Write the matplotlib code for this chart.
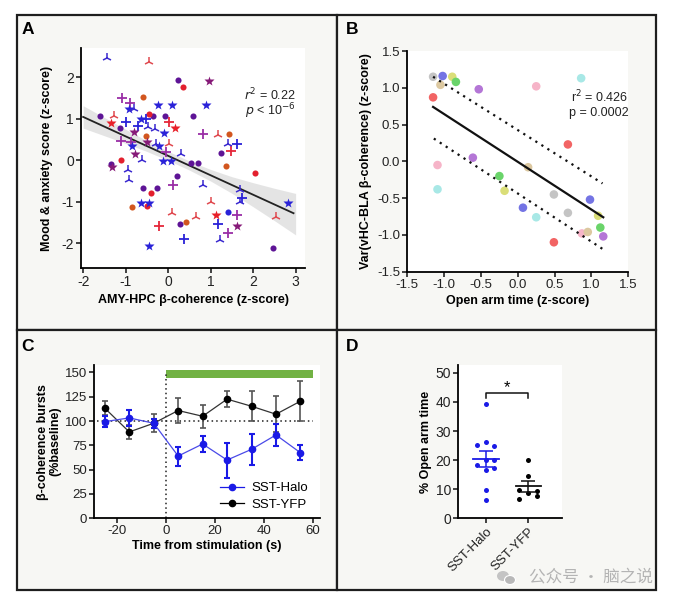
import matplotlib
matplotlib.use("Agg")
import matplotlib.pyplot as plt
import numpy as np
from matplotlib.patches import Rectangle, Ellipse
from matplotlib.lines import Line2D

plt.rcParams['font.family'] = ['Liberation Sans', 'DejaVu Sans']
plt.rcParams['axes.unicode_minus'] = False
plt.rcParams['axes.linewidth'] = 1.3
plt.rcParams['xtick.major.width'] = 1.2
plt.rcParams['ytick.major.width'] = 1.2
plt.rcParams['xtick.major.size'] = 3.5
plt.rcParams['ytick.major.size'] = 3.5

# ---------------- Panel A data ----------------
a_x = [-1.43, -0.46, 0.23, 0.34, -0.58, -1.09, -0.89, -0.93, -0.81, -1.00,
       -0.23, 0.09, -1.61, -1.28, -1.34, -0.45, -0.35, -0.07, 0.59, -0.65,
       -0.52, -0.70, 0.02, 0.16, -1.14, -0.48, -0.31, -0.09, -0.81, -0.51,
       -1.12, -0.87, -0.84, -0.49, -0.28, 0.02, -0.21, -0.78, -1.11, -0.62,
       -0.05, 0.31, -0.12, 0.07, 0.53, 0.71, -1.34, -1.31, -0.95, -0.92,
       0.21, -0.59, -0.40, -0.26, 0.12, -0.64, -0.46, -0.49, -0.85, 0.09,
       0.65, 0.29, 0.42, -0.21, 0.38, -0.45, 0.97, 0.89, 0.83, 1.18,
       1.43, 1.40, 1.63, 1.49, 1.25, 1.36, 2.05, 0.82, 1.69, 1.74,
       1.68, 2.82, 1.02, 1.13, 1.40, 1.62, 2.54, 1.18, 1.62, 1.40,
       1.22, 2.46]
a_y = [2.45, 2.37, 1.92, 1.76, 1.53, 1.49, 1.38, 1.23, 1.23, 0.92,
       1.33, 1.33, 1.05, 1.07, 0.89, 1.12, 1.05, 1.05, 1.05, 0.99,
       0.99, 0.83, 0.91, 0.78, 0.78, 0.80, 0.75, 0.65, 0.67, 0.59,
       0.47, 0.43, 0.35, 0.43, 0.39, 0.39, 0.35, 0.15, 0.01, 0.01,
       0.19, 0.15, -0.02, -0.02, -0.06, -0.06, -0.09, -0.17, -0.24, -0.48,
       -0.39, -0.67, -0.79, -0.67, -0.61, -1.03, -1.03, -1.11, -1.12, -1.27,
       -1.37, -1.53, -1.49, -1.59, -1.91, -2.06, 1.90, 1.33, 0.62, 0.60,
       0.62, 0.38, 0.38, 0.23, 0.18, -0.15, -0.30, -0.59, -0.72, -0.92,
       -1.00, -1.04, -1.01, -1.32, -1.25, -1.32, -1.37, -1.54, -1.59, -1.75,
       -1.93, -2.12]
a_kind = ['tB', 'tR', 'cP', 'cR', 'cO', 'pP', 'pP', 'sB', 'tB', 'pB',
          'sB', 'sB', 'cP', 'tR', 'sR', 'cR', 'cP', 'cP', 'cP', 'sB',
          'pB', 'pB', 'pR', 'sR', 'cP', 'tB', 'tB', 'sB', 'sP', 'cO',
          'pP', 'pP', 'sB', 'sP', 'tB', 'tR', 'sB', 'sP', 'cR', 'tB',
          'pP', 'tB', 'sB', 'sB', 'cP', 'cP', 'cP', 'sP', 'tB', 'tB',
          'cP', 'cP', 'cR', 'cP', 'pP', 'sB', 'sB', 'cR', 'cO', 'tR',
          'tR', 'cP', 'cO', 'pR', 'pB', 'sB', 'sP', 'sB', 'pP', 'tR',
          'cO', 'tB', 'pB', 'pR', 'cP', 'cO', 'cR', 'tB', 'tB', 'pB',
          'tB', 'sB', 'tR', 'sR', 'cB', 'pP', 'tR', 'pB', 'sP', 'pP',
          'tB', 'cP']
a_fit_x = [-2.0, 2.95]
a_fit_y = [1.04, -1.28]
a_band_x = [-2.0, -1.5, -1.0, -0.5, 0.0, 0.5, 1.0, 1.5, 2.0, 2.5, 3.0]
a_band_hw = [0.27, 0.22, 0.17, 0.13, 0.11, 0.11, 0.14, 0.2, 0.29, 0.39, 0.5]

# ---------------- Panel B data ----------------
b_x = [-1.15, -1.02, -0.89, -0.84, -1.05, -0.53, 0.25, 0.86, -1.15, 0.68,
       -0.61, -1.09, 0.14, -0.25, -1.09, -0.18, 0.49, 0.98, 0.07, 0.25,
       0.68, 1.09, 1.12, 0.87, 0.95, 1.16, 0.49]
b_y = [1.15, 1.16, 1.15, 1.08, 1.04, 0.98, 1.02, 1.13, 0.87, 0.23,
       0.05, -0.05, -0.08, -0.20, -0.38, -0.40, -0.45, -0.52, -0.63, -0.76,
       -0.70, -0.74, -0.90, -0.98, -0.96, -1.02, -1.10]
b_col = ['gray', 'blue', 'yellow', 'green', 'tan', 'purple', 'pink', 'cyan', 'red', 'red',
         'purple', 'pink', 'tan', 'green', 'cyan', 'yellow', 'gray', 'blue', 'blue', 'cyan',
         'gray', 'yellow', 'green', 'pink', 'tan', 'purple', 'red']
b_fit_x = [-1.15, 1.16]
b_fit_y = [0.74, -0.76]
b_up_x = [-1.15, 1.15]
b_up_y = [1.15, -0.30]
b_lo_x = [-1.14, 1.15]
b_lo_y = [0.31, -1.19]

# ---------------- Panel C data ----------------
c_t = [-25, -15, -5, 5, 15, 25, 35, 45, 55]
c_halo = [99.4, 103.2, 97.7, 64.0, 76.4, 59.9, 70.9, 85.7, 67.4]
c_halo_err = [5.5, 8.2, 4.5, 9.8, 8.2, 18.0, 15.6, 11.0, 7.6]
c_yfp = [113.2, 88.8, 97.7, 110.8, 104.9, 122.5, 115.2, 107.0, 120.4]
c_yfp_err = [6.9, 7.5, 9.1, 12.7, 11.7, 8.2, 15.6, 18.4, 20.3]
c_stim = [0, 60]

# ---------------- Panel D data ----------------
d_groups = ['SST-Halo', 'SST-YFP']
d_halo = [39.2, 25.3, 26.4, 24.7, 18.4, 20.0, 20.0, 16.5, 17.4, 9.6, 6.4]
d_halo_off = [0, -0.22, 0, 0.2, -0.22, 0, 0.2, 0, 0.2, 0, 0]
d_yfp = [20.1, 14.5, 9.9, 8.7, 9.5, 6.8, 7.6]
d_yfp_off = [0, 0, -0.22, 0, 0.2, -0.22, 0.2]
d_mean = [20.4, 11.0]
d_sem = [2.7, 1.8]

# ---------------- figure ----------------
W, H = 675, 603
fig = plt.figure(figsize=(W / 100, H / 100), dpi=100)
fig.patch.set_facecolor('white')

def fx(px):
    return px / W

def fy(py):
    return 1 - py / H

panel_bg = '#f7f7f4'
frame_c = '#1e1e1e'
for (x0, y0, x1, y1) in [(17, 15, 337, 330), (337, 15, 656, 330), (17, 330, 337, 590), (337, 330, 656, 590)]:
    fig.patches.append(Rectangle((fx(x0), fy(y1)), fx(x1) - fx(x0), fy(y0) - fy(y1),
                                 transform=fig.transFigure, facecolor=panel_bg,
                                 edgecolor=frame_c, linewidth=1.6, zorder=-5))

for lab, px, py in [('A', 28, 30), ('B', 352, 30), ('C', 28, 346), ('D', 352, 346)]:
    fig.text(fx(px), fy(py), lab, fontsize=12.5, fontweight='bold', ha='center', va='center')

def style(ax, ls=9.5):
    for s in ['top', 'right']:
        ax.spines[s].set_visible(False)
    ax.set_facecolor('white')
    ax.tick_params(labelsize=ls, direction='out', pad=1.5, colors='#222222')

# ---------------- Panel A ----------------
axA = fig.add_axes([fx(81), fy(268), fx(305) - fx(81), fy(48) - fy(268)])
style(axA, 10)
axA.set_xlim(-2.05, 3.22)
axA.set_ylim(-2.6, 2.7)
axA.set_xticks([-2, -1, 0, 1, 2, 3])
axA.set_yticks([-2, -1, 0, 1, 2])
bx = np.array(a_band_x)
slope = (a_fit_y[1] - a_fit_y[0]) / (a_fit_x[1] - a_fit_x[0])
line_at = a_fit_y[0] + slope * (bx - a_fit_x[0])
axA.fill_between(bx, line_at - np.array(a_band_hw), line_at + np.array(a_band_hw),
                 color='#dcdcdc', alpha=0.75, lw=0, zorder=1)
axA.plot(a_fit_x, a_fit_y, color='#222222', lw=1.3, zorder=3)

col_map = {'B': '#2a22d8', 'P': '#5e1496', 'R': '#e3202e', 'O': '#d2561f'}
star_col = {'B': '#2a22d8', 'P': '#861a78', 'R': '#e8202a', 'O': '#d2561f'}
plus_col = {'B': '#2a22d8', 'P': '#9a2ea6', 'R': '#e5283a', 'O': '#d2561f'}
tri_col = {'B': '#3b2ad0', 'P': '#8a3aa8', 'R': '#e04a50', 'O': '#d2561f'}
ax_arr = np.array(a_x)
ay_arr = np.array(a_y)
kinds = np.array(a_kind)
for k in sorted(set(a_kind)):
    m = kinds == k
    mk, c = k[0], k[1]
    if mk == 'c':
        axA.plot(ax_arr[m], ay_arr[m], 'o', ms=4.4, color=col_map[c], mec='none', zorder=4)
    elif mk == 's':
        axA.plot(ax_arr[m], ay_arr[m], '*', ms=7, color=star_col[c], mec='none', zorder=4)
    elif mk == 'p':
        axA.plot(ax_arr[m], ay_arr[m], '+', ms=6.5, mew=1.3, color=plus_col[c], zorder=4)
    else:
        axA.plot(ax_arr[m], ay_arr[m], '2', ms=6.5, mew=1.1, color=tri_col[c], zorder=4)
axA.text(3.0, 1.57, r'$r^2$ = 0.22', ha='right', va='center', fontsize=9, color='#222222')
axA.text(3.0, 1.17, r'$p$ < 10$^{-6}$', ha='right', va='center', fontsize=9, color='#222222')
axA.set_xlabel('AMY-HPC β-coherence (z-score)', fontsize=9, fontweight='bold', labelpad=4)
axA.set_ylabel('Mood & anxiety score (z-score)', fontsize=9, fontweight='bold', labelpad=6)

# ---------------- Panel B ----------------
axB = fig.add_axes([fx(407.3), fy(271.7), fx(628.3) - fx(407.3), fy(51) - fy(271.7)])
style(axB)
axB.set_xlim(-1.5, 1.5)
axB.set_ylim(-1.5, 1.5)
ticks = [-1.5, -1.0, -0.5, 0.0, 0.5, 1.0, 1.5]
axB.set_xticks(ticks)
axB.set_yticks(ticks)
axB.set_xticklabels(['%.1f' % t for t in ticks])
axB.set_yticklabels(['%.1f' % t for t in ticks])
pal = {'gray': '#c4c4c4', 'blue': '#7474e4', 'yellow': '#dade78', 'green': '#6ad46a',
       'tan': '#dcc8a0', 'purple': '#b476d6', 'pink': '#f6b4c8', 'cyan': '#a8e8e6',
       'red': '#f26464'}
axB.scatter(b_x, b_y, s=38, c=[pal[c] for c in b_col], edgecolors='none', zorder=2)
axB.plot(b_fit_x, b_fit_y, color='#111111', lw=1.6, zorder=3)
axB.plot(b_up_x, b_up_y, color='#111111', lw=1.6, ls=(0, (1, 2.2)), zorder=3)
axB.plot(b_lo_x, b_lo_y, color='#111111', lw=1.6, ls=(0, (1, 2.2)), zorder=3)
axB.text(1.5, 0.87, r'r$^2$ = 0.426', ha='right', va='center', fontsize=9, color='#222222')
axB.text(1.5, 0.66, 'p = 0.0002', ha='right', va='center', fontsize=9, color='#222222')
axB.set_xlabel('Open arm time (z-score)', fontsize=9, fontweight='bold', labelpad=3)
axB.set_ylabel('Var(vHC-BLA β-coherence) (z-score)', fontsize=9, fontweight='bold', labelpad=4)

# ---------------- Panel C ----------------
axC = fig.add_axes([fx(94.3), fy(518.3), fx(320) - fx(94.3), fy(365) - fy(518.3)])
style(axC)
axC.set_xlim(-29.3, 63)
axC.set_ylim(0, 157.6)
axC.set_xticks([-20, 0, 20, 40, 60])
axC.set_yticks([0, 25, 50, 75, 100, 125, 150])
axC.fill_between(c_stim, 144, 152, color='#72b244', lw=0, zorder=1)
axC.plot([0, 0], [0, 150], color='#222222', lw=1.1, ls=(0, (1, 2)), zorder=1)
axC.plot([-28, 60], [100, 100], color='#222222', lw=1.1, ls=(0, (1, 2)), zorder=1)
axC.errorbar(c_t, c_yfp, yerr=c_yfp_err, fmt='none', ecolor='#555555', elinewidth=1.2,
             capsize=2.5, capthick=1.2, zorder=2)
axC.plot(c_t, c_yfp, color='#333333', lw=0.9, zorder=3)
axC.plot(c_t, c_yfp, 'o', color='black', ms=4.5, zorder=4)
axC.errorbar(c_t, c_halo, yerr=c_halo_err, fmt='none', ecolor='#1a1ae6', elinewidth=1.5,
             capsize=2.5, capthick=1.5, zorder=5)
axC.plot(c_t, c_halo, color='#4a4ae8', lw=0.9, zorder=6)
axC.plot(c_t, c_halo, 'o', color='#1a1ae6', ms=4.5, zorder=7)
handles = [Line2D([], [], color='#1a1ae6', marker='o', ms=4.5, lw=0.9),
           Line2D([], [], color='black', marker='o', ms=4.5, lw=0.9)]
axC.legend(handles, ['SST-Halo', 'SST-YFP'], loc='lower right', bbox_to_anchor=(1.0, -0.03),
           frameon=False, fontsize=9.5, handlelength=1.8, handletextpad=0.6, labelspacing=0.35)
axC.set_xlabel('Time from stimulation (s)', fontsize=9, fontweight='bold', labelpad=2)
axC.set_ylabel('β-coherence bursts\n(%baseline)', fontsize=9, fontweight='bold',
               labelpad=3, linespacing=0.95)

# ---------------- Panel D ----------------
axD = fig.add_axes([fx(458.3), fy(518.3), fx(562.3) - fx(458.3), fy(365) - fy(518.3)])
style(axD, 10)
axD.set_xlim(-0.65, 1.8)
axD.set_ylim(0, 52.7)
axD.set_yticks([0, 10, 20, 30, 40, 50])
axD.set_xticks([0, 1])
axD.set_xticklabels(d_groups, rotation=45, ha='right', rotation_mode='anchor', fontsize=9.5)
axD.plot(np.array(d_halo_off), d_halo, 'o', color='#1a1ae6', ms=3.6, mec='none', zorder=3)
axD.plot(1 + np.array(d_yfp_off), d_yfp, 'o', color='black', ms=3.6, mec='none', zorder=3)
for i, mcol in enumerate(['#1a1ae6', '#111111']):
    axD.plot([i - 0.3, i + 0.3], [d_mean[i], d_mean[i]], color=mcol, lw=1.3, zorder=4)
    axD.errorbar([i], [d_mean[i]], yerr=[d_sem[i]], fmt='none', ecolor=mcol,
                 elinewidth=1.1, capsize=5, capthick=1.1, zorder=4)
axD.plot([0, 0, 1, 1], [41.2, 43, 43, 41.2], color='#111111', lw=1.1)
axD.text(0.5, 42.5, '*', ha='center', va='bottom', fontsize=12)
axD.set_ylabel('% Open arm time', fontsize=9, fontweight='bold', labelpad=3)

# watermark
fig.text(fx(653), fy(577), '公众号 · 脑之说', ha='right', va='center', fontsize=12,
         color='#b4b4b4', family=['Noto Sans CJK SC', 'DejaVu Sans'])
fig.patches.append(Ellipse((fx(503), fy(576)), 12 / W, 10 / H,
                   transform=fig.transFigure, facecolor='#c4c4c4', edgecolor='none'))
fig.patches.append(Ellipse((fx(510), fy(580)), 11 / W, 9 / H,
                   transform=fig.transFigure, facecolor='#b8b8b8', edgecolor='white', lw=0.8))

fig.savefig('out.png', dpi=100, facecolor='white')
